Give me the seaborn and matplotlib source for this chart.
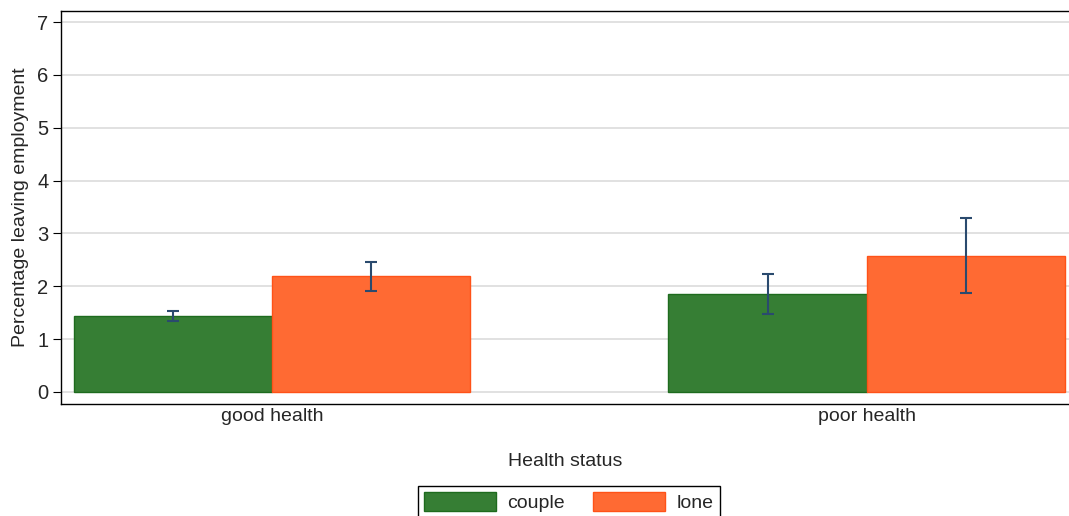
import numpy as np
import pandas as pd
import seaborn as sns
import matplotlib.pyplot as plt

# values
health = ["good health", "poor health"]
living = ["couple", "lone"]
couple_pct = [1.44, 1.85]
lone_pct = [2.20, 2.58]
couple_lo = [1.34, 1.47]
couple_hi = [1.53, 2.23]
lone_lo = [1.92, 1.87]
lone_hi = [2.46, 3.29]

df = pd.DataFrame({
    "health": health * 2,
    "living": [living[0]] * 2 + [living[1]] * 2,
    "pct": couple_pct + lone_pct,
    "lo": couple_lo + lone_lo,
    "hi": couple_hi + lone_hi,
})

sns.set_style("white")
plt.rcParams["font.family"] = ["Liberation Sans", "DejaVu Sans"]

fig = plt.figure(figsize=(10.69, 5.16), dpi=100)
ax = fig.add_axes([61 / 1069, 1 - 404 / 516, 1 - 61 / 1069, (404 - 11) / 516])

palette = {"couple": "#367E34", "lone": "#FF6A33"}
edges = {"couple": "#1E6B1E", "lone": "#FF5218"}

sns.barplot(data=df, x="health", y="pct", hue="living", order=health,
            hue_order=living, palette=palette, width=0.667, errorbar=None,
            saturation=1, ax=ax)

# outline colours and asymmetric error bars, placed on the drawn bars
for cont, name in zip(ax.containers, living):
    sub = df[df["living"] == name].set_index("health").loc[health]
    xs = []
    for bar in cont:
        bar.set_edgecolor(edges[name])
        bar.set_linewidth(1.0)
        xs.append(bar.get_x() + bar.get_width() / 2)
    ax.errorbar(xs, sub["pct"], yerr=[sub["pct"] - sub["lo"], sub["hi"] - sub["pct"]],
                fmt="none", ecolor="#2A4A6E", elinewidth=1.5, capsize=4.5,
                capthick=1.5, zorder=5)

ax.set_ylim(-0.228, 7.21)
ax.set_xlim(-0.355, 1.34)
ax.set_yticks(range(8))
ax.yaxis.grid(True, color="#DCDCDC", linewidth=1.2)
ax.set_axisbelow(True)

for side in ["top", "left", "bottom"]:
    ax.spines[side].set_color("black")
    ax.spines[side].set_linewidth(1.0)
ax.spines["right"].set_visible(False)

ax.tick_params(axis="y", length=6, width=0.8, color="black", labelsize=14.5, pad=3, left=True)
ax.tick_params(axis="x", length=0, labelsize=14, pad=3)
ax.set_ylabel("Percentage leaving employment", fontsize=14)
ax.yaxis.set_label_coords(-0.032, 0.5)
ax.set_xlabel("Health status", fontsize=14, labelpad=20)

ax.get_legend().remove()
handles = [plt.Rectangle((0, 0), 1, 1, facecolor=palette[n], edgecolor=edges[n]) for n in living]
leg = fig.legend(handles, living, loc="upper center", ncol=2,
                 bbox_to_anchor=(569 / 1069, 1 - 486 / 516), fontsize=14,
                 frameon=True, fancybox=False, edgecolor="black", framealpha=1,
                 handlelength=3.7, handleheight=1.12, columnspacing=1.45,
                 handletextpad=0.6, borderpad=0.32, borderaxespad=0)
leg.get_frame().set_linewidth(1.0)

fig.savefig("out.png", dpi=100)
